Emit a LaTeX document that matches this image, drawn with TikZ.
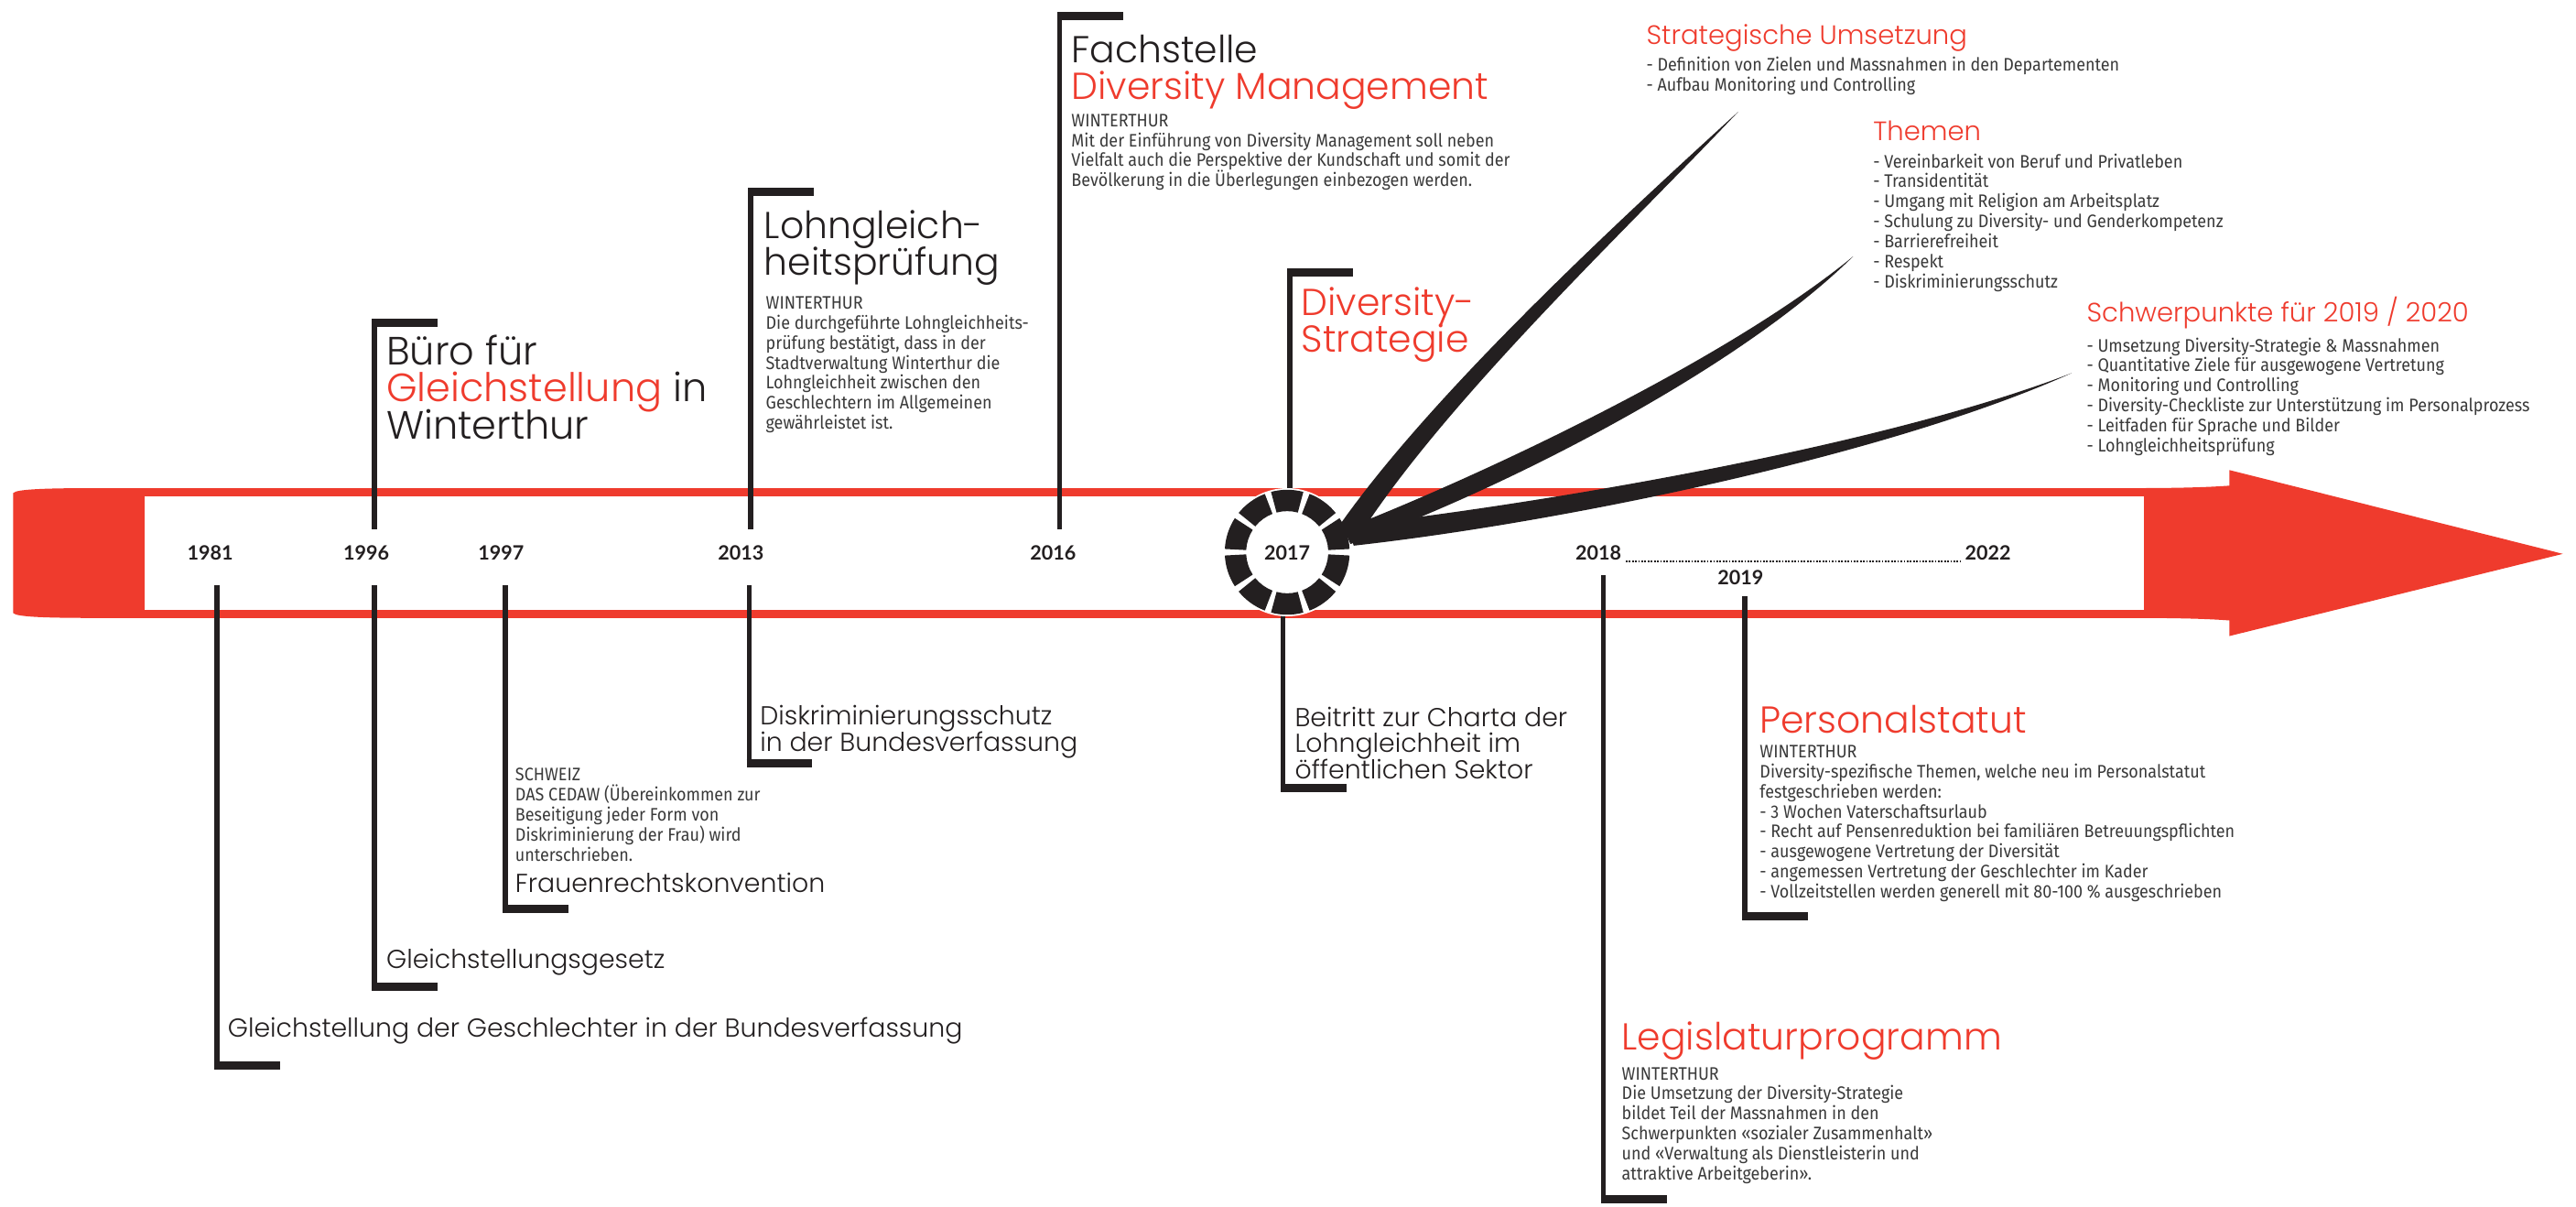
\documentclass[tikz,border=0pt]{standalone}
\usepackage{fontspec}
\setmainfont{Fira Sans}
\newfontfamily\headfont{Poppins Light}
\newfontfamily\notefont{Fira Sans}[FakeStretch=0.91]
\newfontfamily\yearfont{Lato}
\usetikzlibrary{positioning}
\definecolor{tlred}{RGB}{239,59,45}
\definecolor{tlblack}{RGB}{35,31,32}
\definecolor{tlgray}{RGB}{58,58,58}
% stacked lines, baseline = first line
\newcommand{\lines}[1]{\vtop{\lineskiplimit=-100pt\relax\let\\\cr\halign{##\hfil\cr#1\crcr}}}
\newcommand{\hl}[1]{\textcolor{tlred}{#1}}
\tikzset{
  txt/.style={inner sep=0pt, anchor=base west},
  head/.style={txt, font=\headfont\fontsize{22.8}{22.3}\selectfont, text=tlblack},
  mid/.style={txt, font=\headfont\fontsize{15.8}{16}\selectfont, text=tlblack},
  note/.style={txt, font=\notefont\fontsize{11}{12.2}\selectfont, text=tlgray},
  sub/.style={txt, font=\headfont\fontsize{16.2}{16}\selectfont, text=tlred},
  year/.style={inner sep=0pt, anchor=base, font=\yearfont\bfseries\fontsize{12}{13}\selectfont, text=tlblack},
  stem/.style={line width=3pt, draw=tlblack},
  foot/.style={line width=5pt, draw=tlblack},
  swoosh/.style={fill=tlblack}
}
\begin{document}
\begin{tikzpicture}[x=1pt,y=-1pt]
\fill[white] (0,0) rectangle (1568,734);
\useasboundingbox (0,0) rectangle (1568,734);

% the red band with arrow
\fill[tlred] (8,300) .. controls (10,297.5) and (30,297) .. (60,297) -- (1300,297)
  .. controls (1335,297) and (1350,296) .. (1357,295.5) -- (1357,286) -- (1560,337) -- (1357,387) -- (1357,377.5)
  .. controls (1350,377) and (1335,376) .. (1300,376) -- (60,376) .. controls (30,376) and (10,375.5) .. (8,373) -- cycle;
\fill[white] (88,302) rectangle (1305,371);

% years
\node[year] (y1981) at (128,341) {1981};
\node[year] (y1996) at (223,341) {1996};
\node[year] (y1997) at (305,341) {1997};
\node[year] (y2013) at (451,341) {2013};
\node[year] (y2016) at (641,341) {2016};
\node[year] (y2018) at (973,341) {2018};
\node[year] (y2022) at (1210,341) {2022};
\node[year] (y2019) at (1059.5,356) {2019};
\draw[tlblack, line width=1.4pt, dash pattern=on 1pt off 0.9pt] ([xshift=2.5pt,yshift=-0.7pt]y2018.base east) -- ([xshift=-2.5pt,yshift=-0.7pt]y2022.base west);

% stems above the band
\coordinate (b1996) at (228,322);   \coordinate (t1996) at (228,196.5);
\coordinate (b2013) at (457,322);   \coordinate (t2013) at (457,116.5);
\coordinate (b2016) at (645,322);   \coordinate (t2016) at (645,9.5);
\coordinate (b2017) at (785,300);   \coordinate (t2017) at (785,165.5);
\foreach \e in {1996,2013,2016,2017}{
  \draw[stem] (b\e) -- (t\e);
  \draw[foot] ([xshift=-1.5pt]t\e) -- ++(40,0);
}

% stems below the band
\coordinate (u1981) at (132,356);   \coordinate (f1981) at (132,648.5);
\coordinate (u1996) at (228,356);   \coordinate (f1996) at (228,600.5);
\coordinate (u1997) at (307.5,356); \coordinate (f1997) at (307.5,553);
\coordinate (u2013) at (456,356);   \coordinate (f2013) at (456,464.5);
\coordinate (u2017) at (781,374);   \coordinate (f2017) at (781,479.5);
\coordinate (u2018) at (976,350);   \coordinate (f2018) at (976,729.5);
\coordinate (u2019) at (1062,363);  \coordinate (f2019) at (1062,557.5);
\foreach \e in {1981,1996,1997,2013,2017,2018,2019}{
  \draw[stem] (u\e) -- (f\e);
  \draw[foot] ([xshift=-1.5pt]f\e) -- ++(40,0);
}

% 2017 ring
\node[circle, fill=white, minimum size=78pt, inner sep=0pt] (ring) at (783.5,336) {};
\foreach \a in {0,36,...,324}
  \fill[tlblack, shift={(ring.center)}] (\a+75:38) arc[start angle=\a+75, end angle=\a+105, radius=38]
    -- (\a+105:25) arc[start angle=\a+105, end angle=\a+75, radius=25] -- cycle;
\node[year] (y2017) at ([yshift=-5pt]ring.center) {2017};

% swooshes to the strategy topics
\coordinate (s1) at (1058,68);
\coordinate (s2) at (1128,156);
\coordinate (s3) at (1261,227);
\fill[swoosh] (813,323) .. controls (870,240) and (990,130) .. (s1) .. controls (993,137) and (880,243) .. (826,328) -- cycle;
\fill[swoosh] (818,322) .. controls (900,290) and (1050,220) .. (s2) .. controls (1055,228) and (905,302) .. (822,331) -- cycle;
\fill[swoosh] (820,320) .. controls (950,305) and (1150,270) .. (s3) .. controls (1150,277) and (950,318) .. (824,332) -- cycle;

% texts above
\node[head, font=\headfont\fontsize{24}{22.5}\selectfont] (buero) at (235,222) {\lines{Büro für\\\hl{Gleichstellung} in\\Winterthur}};
\node[head] (lohn) at (465,145) {\lines{Lohngleich-\\heitsprüfung}};
\node[note] (lohnnote) at (466,188) {\lines{WINTERTHUR\\Die durchgeführte Lohngleichheits-\\prüfung bestätigt, dass in der\\Stadtverwaltung Winterthur die\\Lohngleichheit zwischen den\\Geschlechtern im Allgemeinen\\gewährleistet ist.}};
\node[head] (fach) at (652,38) {\lines{Fachstelle\\\hl{Diversity Management}}};
\node[note] (fachnote) at (652,77) {\lines{WINTERTHUR\\Mit der Einführung von Diversity Management soll neben\\Vielfalt auch die Perspektive der Kundschaft und somit der\\Bevölkerung in die Überlegungen einbezogen werden.}};
\node[head, text=tlred] (strat) at (792,192) {\lines{Diversity-\\Strategie}};

% strategy topics
\node[sub] (umsetz) at (1002,27) {Strategische Umsetzung};
\node[note] (umsetzlist) at (1002,43) {\lines{- Definition von Zielen und Massnahmen in den Departementen\\- Aufbau Monitoring und Controlling}};
\node[sub] (themen) at (1140,85.5) {Themen};
\node[note] (themenlist) at (1140,102) {\lines{- Vereinbarkeit von Beruf und Privatleben\\- Transidentität\\- Umgang mit Religion am Arbeitsplatz\\- Schulung zu Diversity- und Genderkompetenz\\- Barrierefreiheit\\- Respekt\\- Diskriminierungsschutz}};
\node[sub] (schwer) at (1270,196) {Schwerpunkte für 2019 / 2020};
\node[note] (schwerlist) at (1270,214) {\lines{- Umsetzung Diversity-Strategie \& Massnahmen\\- Quantitative Ziele für ausgewogene Vertretung\\- Monitoring und Controlling\\- Diversity-Checkliste zur Unterstützung im Personalprozess\\- Leitfaden für Sprache und Bilder\\- Lohngleichheitsprüfung}};

% texts below
\node[mid] (bv1981) at (138.5,631) {Gleichstellung der Geschlechter in der Bundesverfassung};
\node[mid] (gg1996) at (235,589) {Gleichstellungsgesetz};
\node[note] (cedawnote) at (313.5,475) {\lines{SCHWEIZ\\DAS CEDAW (Übereinkommen zur\\Beseitigung jeder Form von\\Diskriminierung der Frau) wird\\unterschrieben.}};
\node[mid] (cedaw) at (313.5,543) {Frauenrechtskonvention};
\node[mid] (dis2013) at (462.5,441) {\lines{Diskriminierungsschutz\\in der Bundesverfassung}};
\node[mid] (charta) at (788,442) {\lines{Beitritt zur Charta der\\Lohngleichheit im\\öffentlichen Sektor}};
\node[head, text=tlred] (personal) at (1071,446) {Personalstatut};
\node[note] (personalnote) at (1071,461) {\lines{WINTERTHUR\\Diversity-spezifische Themen, welche neu im Personalstatut\\festgeschrieben werden:\\- 3 Wochen Vaterschaftsurlaub\\- Recht auf Pensenreduktion bei familiären Betreuungspflichten\\- ausgewogene Vertretung der Diversität\\- angemessen Vertretung der Geschlechter im Kader\\- Vollzeitstellen werden generell mit 80-100 \% ausgeschrieben}};
\node[head, text=tlred] (legis) at (987,639) {Legislaturprogramm};
\node[note] (legisnote) at (987,657) {\lines{WINTERTHUR\\Die Umsetzung der Diversity-Strategie\\bildet Teil der Massnahmen in den\\Schwerpunkten «sozialer Zusammenhalt»\\und «Verwaltung als Dienstleisterin und\\attraktive Arbeitgeberin».}};
\end{tikzpicture}
\end{document}
